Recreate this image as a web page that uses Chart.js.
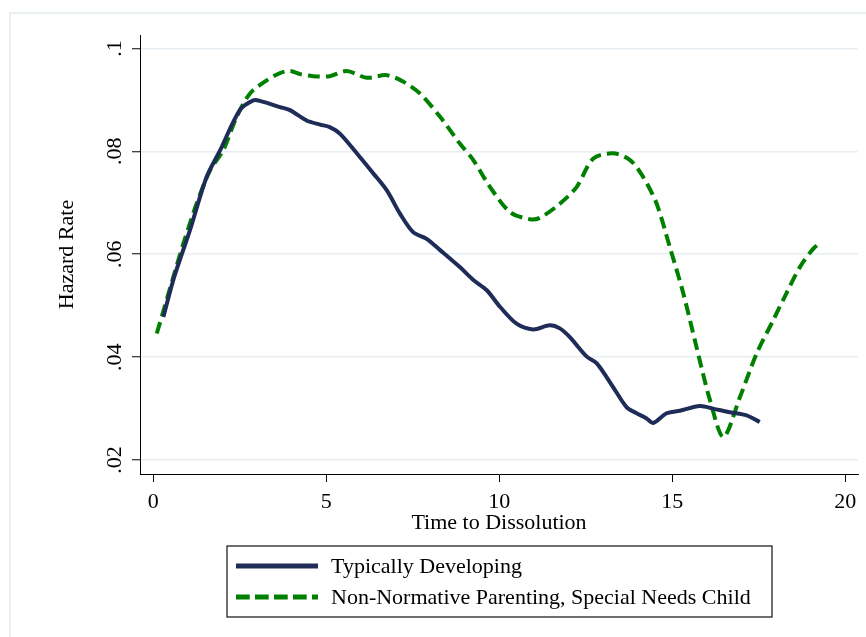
<!DOCTYPE html>
<html>
<head>
<meta charset="utf-8">
<script src="https://cdn.jsdelivr.net/npm/chart.js@4.4.1/dist/chart.umd.min.js"></script>
<style>
  html, body { margin: 0; padding: 0; background: #ffffff; overflow: hidden; }
  #wrap { width: 866px; height: 637px; overflow: hidden; }
  canvas { display: block; }
</style>
</head>
<body>
<div id="wrap"><canvas id="c" width="866" height="637"></canvas></div>
<script>
// ---- data ----
const seriesNames = ['Typically Developing', 'Non-Normative Parenting, Special Needs Child'];

const typicalTime = [0.29, 0.6, 1.06, 1.54, 1.93, 2.5, 2.89, 3.08, 3.66, 3.95, 4.43, 4.82, 5.1, 5.4, 5.97, 6.36, 6.75, 7.13, 7.51, 7.9, 8.29, 8.86, 9.25, 9.64, 10.02, 10.5, 10.98, 11.46, 11.75, 12.04, 12.53, 12.82, 13.29, 13.68, 13.97, 14.26, 14.45, 14.84, 15.22, 15.8, 16.18, 16.67, 17.15, 17.53];
const typicalHazard = [0.0478, 0.0555, 0.0647, 0.0750, 0.0802, 0.0880, 0.0899, 0.0898, 0.0886, 0.0880, 0.0860, 0.0852, 0.0847, 0.0834, 0.0789, 0.0757, 0.0724, 0.0679, 0.0643, 0.0630, 0.0608, 0.0575, 0.0550, 0.0530, 0.0498, 0.0465, 0.0454, 0.0462, 0.0456, 0.0439, 0.0401, 0.0388, 0.0342, 0.0303, 0.0291, 0.0281, 0.0272, 0.0291, 0.0296, 0.0305, 0.0300, 0.0293, 0.0287, 0.0274];

const specialTime = [0.1, 0.58, 0.87, 1.25, 1.64, 2.02, 2.41, 2.79, 3.28, 3.66, 3.95, 4.24, 4.62, 5.1, 5.59, 6.17, 6.75, 7.23, 7.71, 8.29, 8.86, 9.25, 9.73, 10.31, 10.89, 11.18, 11.75, 12.24, 12.72, 13.29, 13.78, 14.16, 14.55, 14.93, 15.32, 15.7, 16.09, 16.48, 16.96, 17.44, 17.92, 18.3, 18.69, 19.08, 19.32];
const specialHazard = [0.0446, 0.0556, 0.0621, 0.0698, 0.0763, 0.0802, 0.0867, 0.0912, 0.0938, 0.0952, 0.0956, 0.0950, 0.0946, 0.0946, 0.0956, 0.0943, 0.0948, 0.0935, 0.0912, 0.0867, 0.0815, 0.0783, 0.0731, 0.0682, 0.0668, 0.0671, 0.0698, 0.0731, 0.0786, 0.0796, 0.0783, 0.0750, 0.0698, 0.0614, 0.0524, 0.0420, 0.0317, 0.0245, 0.0323, 0.0407, 0.0472, 0.0524, 0.0575, 0.0611, 0.0624];

const xTickValues = [0, 5, 10, 15, 20];
const xTickLabels = ['0', '5', '10', '15', '20'];
const yTickValues = [0.02, 0.04, 0.06, 0.08, 0.1];
const yTickLabels = ['.02', '.04', '.06', '.08', '.1'];

const xTitle = 'Time to Dissolution';
const yTitle = 'Hazard Rate';

// ---- styling ----
const FONT = 'Liberation Serif, Times New Roman, serif';
const NAVY = '#1f2c58';
const GREEN = '#008000';
const FRAME = '#e9f0f0';

const toPoints = (xs, ys) => xs.map((x, i) => ({ x: x, y: ys[i] }));

const framePlugin = {
  id: 'frame',
  beforeDraw(chart) {
    const ctx = chart.ctx;
    ctx.save();
    ctx.fillStyle = '#ffffff';
    ctx.fillRect(0, 0, chart.width, chart.height);
    ctx.strokeStyle = FRAME;
    ctx.lineWidth = 2;
    ctx.strokeRect(10, 13, chart.width + 20, chart.height + 20);
    ctx.restore();
  }
};

const legendPlugin = {
  id: 'boxLegend',
  afterDraw(chart) {
    const ctx = chart.ctx;
    const area = chart.chartArea;
    ctx.save();
    // keep the margin right of the plot region clean
    ctx.fillStyle = '#ffffff';
    ctx.fillRect(area.right - 0.3, 15, chart.width - area.right + 1, area.bottom - 16);
    ctx.fillRect(area.right + 1, area.bottom + 2, chart.width - area.right, 12);

    ctx.strokeStyle = '#222222';
    ctx.lineWidth = 1.3;
    ctx.strokeRect(227, 546, 545, 71);
    const rows = [566, 597];
    chart.data.datasets.forEach((ds, i) => {
      const y = rows[i];
      ctx.beginPath();
      ctx.strokeStyle = ds.borderColor;
      ctx.lineWidth = 5;
      ctx.lineCap = 'butt';
      ctx.setLineDash(ds.legendDash || []);
      ctx.moveTo(236, y);
      ctx.lineTo(318, y);
      ctx.stroke();
      ctx.setLineDash([]);
      ctx.fillStyle = '#000000';
      ctx.font = '22px ' + FONT;
      ctx.textBaseline = 'middle';
      ctx.textAlign = 'left';
      ctx.fillText(ds.label, 331, y + 1);
    });
    ctx.restore();
  }
};

new Chart(document.getElementById('c'), {
  type: 'line',
  data: {
    datasets: [
      { label: seriesNames[0], data: toPoints(typicalTime, typicalHazard), borderColor: NAVY, borderWidth: 4, pointRadius: 0, tension: 0.3, fill: false, legendDash: [] },
      { label: seriesNames[1], data: toPoints(specialTime, specialHazard), borderColor: GREEN, borderWidth: 4, borderDash: [12, 6], pointRadius: 0, tension: 0.3, fill: false, legendDash: [13.7, 5.3] }
    ]
  },
  options: {
    responsive: false,
    animation: false,
    devicePixelRatio: 1,
    layout: { padding: { left: 0, top: 35, right: 8, bottom: 101 } },
    plugins: { legend: { display: false }, tooltip: { enabled: false }, title: { display: false } },
    scales: {
      x: {
        type: 'linear', min: -0.385, max: 20.37,
        afterBuildTicks: (s) => { s.ticks = xTickValues.map(v => ({ value: v })); },
        afterFit: (s) => { s.height = 62; },
        ticks: { autoSkip: false, maxRotation: 0, minRotation: 0, padding: 7, color: '#000000', font: { family: FONT, size: 22 }, callback: (v) => xTickLabels[xTickValues.indexOf(v)] },
        grid: { drawOnChartArea: false, color: 'rgba(0,0,0,0)', drawTicks: true, tickLength: 8, tickColor: '#000000', tickWidth: 1 },
        border: { display: true, color: '#000000', width: 1 },
        title: { display: true, text: xTitle, color: '#000000', font: { family: FONT, size: 22 }, padding: { top: 0, bottom: 0 } }
      },
      y: {
        type: 'linear', min: 0.0173, max: 0.1026,
        afterBuildTicks: (s) => { s.ticks = yTickValues.map(v => ({ value: v })); },
        afterFit: (s) => { s.width = 140; },
        ticks: { autoSkip: false, minRotation: 90, maxRotation: 90, crossAlign: 'center', padding: 3, color: '#000000', font: { family: FONT, size: 22 }, callback: (v) => yTickLabels[yTickValues.indexOf(v)] },
        grid: { drawOnChartArea: true, color: '#e6eef1', lineWidth: 1.5, drawTicks: true, tickLength: 8, tickColor: '#000000', tickWidth: 1 },
        border: { display: true, color: '#000000', width: 1 },
        title: { display: true, text: yTitle, color: '#000000', font: { family: FONT, size: 22 }, padding: { top: 54, bottom: 0 } }
      }
    }
  },
  plugins: [framePlugin, legendPlugin]
});
</script>
</body>
</html>
